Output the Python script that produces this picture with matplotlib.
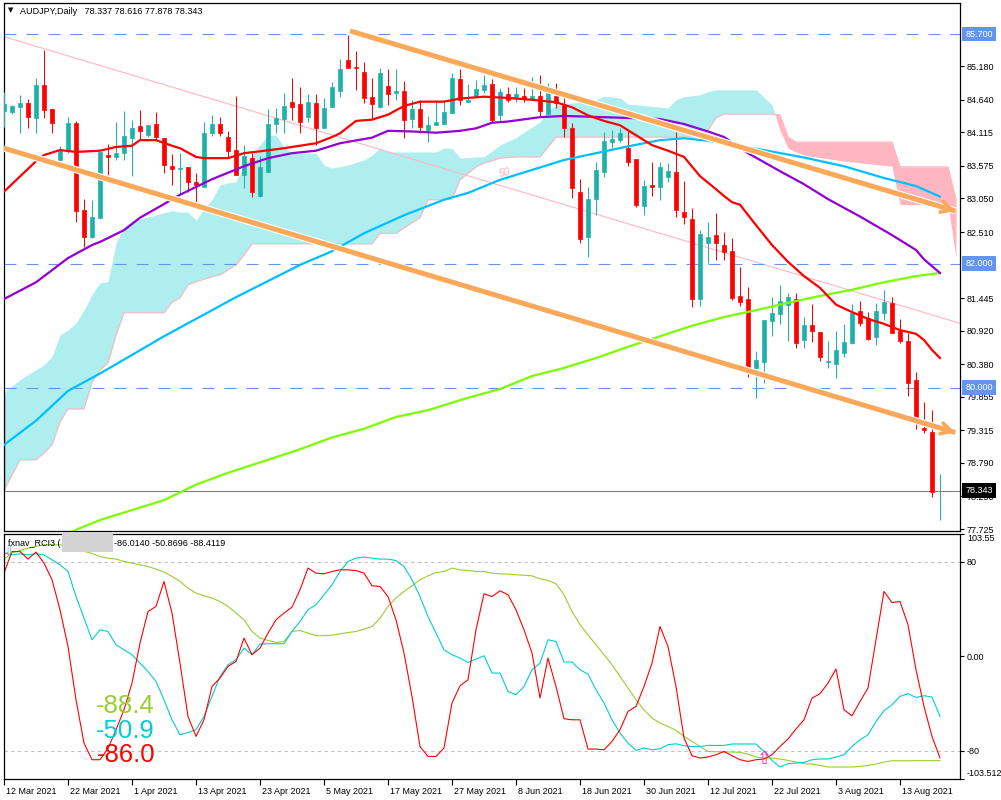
import numpy as np
import matplotlib.pyplot as plt
from matplotlib.patches import Rectangle
from matplotlib.transforms import blended_transform_factory, ScaledTranslation

plt.rcParams['font.family'] = ['Liberation Sans', 'DejaVu Sans']

# AUDJPY daily candles, bar 0 = 12 Mar 2021
opens = [84.464, 84.448, 84.529, 84.584, 84.342, 84.878, 84.492, 83.670, 83.815, 84.271,
         82.865, 82.434, 82.736, 83.751, 83.714, 83.788, 84.020, 84.218, 84.073, 84.250,
         84.020, 83.573, 83.530, 83.562, 83.311, 83.240, 84.110, 84.250, 84.036, 83.831,
         83.428, 83.697, 83.095, 83.482, 84.250, 84.331, 84.600, 84.572, 84.368, 84.584,
         84.190, 84.529, 84.787, 85.281, 85.168, 85.083, 84.690, 84.529, 84.862, 84.745,
         84.782, 84.326, 84.492, 84.153, 84.234, 84.250, 84.422, 84.975, 84.609, 84.690,
         84.798, 84.894, 84.395, 84.733, 84.690, 84.701, 84.648, 84.701, 84.411, 84.701,
         84.556, 84.181, 83.150, 82.434, 83.042, 83.482, 83.965, 83.992, 83.859, 83.686,
         82.934, 83.267, 83.240, 83.401, 83.482, 82.828, 82.719, 81.431, 82.338, 82.462,
         82.301, 82.204, 81.479, 81.426, 80.314, 80.421, 81.081, 81.189, 81.334, 81.426,
         80.770, 81.012, 80.904, 80.416, 80.383, 80.566, 80.727, 81.242, 81.120, 80.823,
         81.200, 81.361, 80.920, 80.759, 80.126, 79.347, 79.293, 78.337]
highs = [84.770, 84.556, 84.717, 84.653, 84.986, 85.442, 84.492, 83.896, 84.358, 84.303,
         83.037, 83.026, 83.815, 83.923, 84.287, 84.464, 84.315, 84.476, 84.234, 84.448,
         84.020, 83.762, 83.788, 83.562, 83.456, 84.287, 84.395, 84.368, 84.142, 84.701,
         83.912, 83.778, 83.739, 84.492, 84.503, 84.745, 84.996, 84.851, 84.729, 84.729,
         84.664, 84.932, 85.297, 85.690, 85.426, 85.244, 84.996, 85.147, 85.131, 85.131,
         84.943, 84.637, 84.637, 84.384, 84.637, 84.637, 85.067, 85.136, 84.890, 84.959,
         85.040, 84.970, 84.825, 84.851, 84.841, 84.825, 85.002, 85.040, 84.916, 84.906,
         84.664, 84.261, 83.364, 83.230, 83.643, 84.126, 84.153, 84.181, 84.153, 83.686,
         83.348, 83.643, 83.643, 83.617, 84.126, 83.337, 82.892, 82.542, 82.666, 82.811,
         82.515, 82.409, 81.951, 81.629, 80.598, 81.092, 81.468, 81.656, 81.522, 81.522,
         81.136, 81.350, 80.904, 80.759, 80.920, 81.028, 81.350, 81.403, 81.226, 81.371,
         81.576, 81.458, 81.103, 80.888, 80.259, 79.776, 79.642, 78.616]
lows = [84.202, 84.411, 84.100, 84.181, 84.100, 84.342, 84.100, 83.670, 83.778, 82.676,
        82.273, 82.409, 82.731, 83.428, 83.670, 83.670, 83.412, 83.992, 84.045, 83.992,
        83.465, 83.267, 83.106, 83.159, 82.998, 83.240, 84.057, 84.057, 83.697, 83.428,
        83.219, 83.079, 83.079, 83.482, 84.100, 84.100, 84.315, 84.100, 84.287, 83.912,
        84.190, 84.529, 84.690, 85.147, 84.798, 84.584, 84.342, 84.503, 84.556, 84.637,
        84.020, 84.181, 84.100, 83.955, 84.234, 84.250, 84.422, 84.556, 84.600, 84.664,
        84.745, 84.287, 84.287, 84.609, 84.609, 84.609, 84.637, 84.368, 84.395, 84.503,
        84.045, 83.053, 82.338, 82.112, 82.784, 83.401, 83.859, 83.965, 83.573, 82.918,
        82.784, 83.090, 83.026, 83.320, 82.747, 82.634, 81.307, 81.318, 82.006, 82.059,
        82.059, 81.415, 81.318, 80.179, 79.831, 80.082, 80.834, 81.028, 80.759, 80.636,
        80.636, 80.743, 80.437, 80.314, 80.153, 80.501, 80.706, 80.996, 80.770, 80.690,
        81.092, 80.888, 80.727, 79.868, 79.331, 79.267, 78.236, 77.878]
closes = [84.572, 84.540, 84.593, 84.368, 84.878, 84.476, 84.271, 83.815, 84.271, 82.853,
          82.434, 82.757, 83.804, 83.723, 83.778, 84.057, 84.181, 84.142, 84.234, 84.036,
          83.590, 83.530, 83.541, 83.320, 83.267, 84.100, 84.250, 84.110, 83.820, 83.428,
          83.735, 83.159, 83.562, 84.250, 84.342, 84.545, 84.529, 84.287, 84.600, 84.190,
          84.513, 84.851, 85.136, 85.147, 85.147, 84.664, 84.567, 85.067, 84.729, 84.782,
          84.315, 84.492, 84.207, 84.234, 84.278, 84.438, 84.996, 84.637, 84.637, 84.814,
          84.878, 84.315, 84.770, 84.637, 84.733, 84.664, 84.701, 84.464, 84.745, 84.584,
          84.181, 83.224, 82.397, 83.037, 83.509, 83.976, 84.008, 84.100, 83.643, 82.945,
          83.251, 83.240, 83.562, 83.493, 82.865, 82.757, 81.431, 82.478, 82.425, 82.338,
          82.193, 81.442, 81.387, 80.340, 80.448, 81.092, 81.210, 81.398, 81.458, 80.727,
          81.012, 80.920, 80.501, 80.432, 80.609, 80.743, 81.200, 81.049, 80.781, 81.242,
          81.387, 80.888, 80.759, 80.073, 79.534, 79.320, 78.326, 78.343]

# moving averages (bar index, price)
red_ma_idx = [0, 4, 5, 7, 9, 12, 14, 16, 17, 19, 21, 22, 24, 25, 28, 30, 32, 35, 37, 39,
              41, 42, 44, 46, 48, 50, 52, 55, 57, 60, 63, 66, 69, 71, 73, 75, 77, 79, 81, 83,
              85, 87, 89, 90, 91, 92, 94, 96, 98, 100, 102, 104, 106, 108, 110, 112, 113, 114,
              115, 116, 117]
red_ma = [83.16, 83.65, 83.75, 83.83, 83.80, 83.82, 83.88, 83.90, 83.99, 83.99,
          83.90, 83.86, 83.72, 83.70, 83.70, 83.78, 83.81, 83.86, 83.90, 83.94,
          84.04, 84.10, 84.30, 84.32, 84.40, 84.54, 84.61, 84.61, 84.66, 84.69,
          84.67, 84.64, 84.60, 84.52, 84.39, 84.30, 84.23, 84.07, 83.91, 83.82,
          83.72, 83.41, 83.20, 83.09, 82.99, 82.95, 82.62, 82.30, 82.03, 81.80,
          81.61, 81.34, 81.22, 81.11, 81.03, 80.93, 80.90, 80.87, 80.77, 80.61, 80.48]
purple_ma_idx = [0, 4, 8, 11, 12, 15, 17, 20, 22, 26, 30, 33, 36, 39, 42, 46, 48, 51, 54, 57,
                 59, 61, 63, 67, 70, 75, 82, 85, 88, 90, 93, 97, 100, 103, 107, 111, 114, 115,
                 116, 117]
purple_ma = [81.43, 81.70, 82.09, 82.30, 82.35, 82.54, 82.74, 82.96, 83.11, 83.36,
             83.57, 83.70, 83.78, 83.82, 83.94, 84.03, 84.14, 84.13, 84.11, 84.14,
             84.18, 84.27, 84.29, 84.36, 84.38, 84.36, 84.33, 84.25, 84.13, 84.04,
             83.78, 83.49, 83.28, 83.04, 82.76, 82.46, 82.22, 82.07, 81.96, 81.85]
blue_ma_idx = [0, 4, 8, 12, 16, 20, 24, 29, 33, 37, 41, 45, 50, 55, 58, 62, 66, 70, 74, 78,
               82, 85, 88, 91, 95, 100, 105, 110, 114, 117]
blue_ma = [79.08, 79.47, 79.95, 80.23, 80.53, 80.83, 81.11, 81.46, 81.72, 81.98,
           82.20, 82.49, 82.78, 83.03, 83.14, 83.35, 83.51, 83.67, 83.78, 83.89,
           83.99, 84.02, 83.98, 83.92, 83.83, 83.71, 83.57, 83.38, 83.25, 83.08]
green_ma_idx = [8, 12, 16, 20, 24, 28, 33, 37, 41, 45, 49, 53, 58, 62, 66, 70, 74, 78, 82, 86,
                90, 94, 98, 102, 106, 110, 114, 117]
green_ma = [77.66, 77.87, 78.03, 78.19, 78.44, 78.63, 78.84, 79.01, 79.20, 79.34,
            79.53, 79.64, 79.84, 79.98, 80.19, 80.32, 80.48, 80.66, 80.83, 81.00,
            81.14, 81.25, 81.37, 81.48, 81.58, 81.70, 81.80, 81.85]

# ichimoku cloud spans (shifted forward)
cloud_idx = [0, 2, 4, 5, 6, 7, 8, 9, 10, 11, 12, 13, 14, 15, 16, 18, 20, 21, 22, 23,
             24, 25, 26, 27, 28, 29, 30, 31, 32, 33, 34, 35, 36, 39, 40, 41, 43, 45, 46, 47,
             48, 49, 51, 52, 53, 54, 55, 56, 57, 59, 60, 62, 64, 66, 67, 68, 69, 70, 74, 75,
             77, 78, 83, 84, 85, 87, 88, 89, 90, 94, 96, 97, 98, 99, 100, 104, 108, 111, 112, 118,
             119]
span_a = [79.93, 80.13, 80.29, 80.37, 80.50, 80.85, 80.93, 81.04, 81.25, 81.50,
          81.69, 81.71, 82.33, 82.59, 82.69, 82.75, 82.82, 82.85, 82.83, 82.83,
          82.70, 82.88, 83.03, 83.27, 83.30, 83.32, 83.59, 83.75, 83.91, 84.07,
          84.07, 83.88, 83.78, 83.78, 83.59, 83.54, 83.59, 83.67, 83.75, 83.86,
          83.80, 83.80, 83.80, 83.80, 83.80, 83.80, 83.86, 83.86, 83.70, 83.72,
          83.72, 83.91, 84.03, 84.20, 84.28, 84.48, 84.54, 84.57, 84.64, 84.70,
          84.67, 84.57, 84.51, 84.64, 84.69, 84.72, 84.77, 84.80, 84.80, 84.80,
          84.56, 84.15, 83.86, 83.80, 83.75, 83.67, 83.61, 83.57, 82.95, 82.95,
          82.09]
span_b = [78.35, 78.84, 78.84, 78.95, 79.08, 79.45, 79.66, 79.66, 79.66, 80.09,
          80.29, 80.40, 80.85, 81.21, 81.21, 81.21, 81.21, 81.38, 81.45, 81.66,
          81.71, 81.75, 81.79, 81.82, 81.90, 81.98, 82.14, 82.32, 82.32, 82.32,
          82.32, 82.32, 82.32, 82.32, 82.32, 82.32, 82.32, 82.32, 82.32, 82.49,
          82.49, 82.49, 82.66, 82.74, 83.03, 83.03, 83.03, 83.04, 83.35, 83.56,
          83.62, 83.70, 83.72, 83.72, 83.72, 83.88, 84.04, 84.04, 84.04, 84.04,
          84.04, 84.04, 84.04, 84.04, 84.04, 84.04, 84.15, 84.35, 84.41, 84.41,
          84.41, 84.40, 84.04, 83.96, 83.96, 83.96, 83.96, 83.96, 83.56, 83.56,
          83.03]

# drawn objects: trend channel, regression line, levels
channel_upper = [(43.25, 85.75), (118.9, 82.85)]
channel_lower = [(0.0, 83.86), (118.9, 79.28)]
pink_line = [(0.0, 85.657), (119.5, 81.039)]
levels = [85.700, 82.000, 80.000]
last_price = 78.343
price_ticks = [85.180, 84.640, 84.115, 83.575, 83.050, 82.510, 81.445, 80.920, 80.380,
               79.855, 79.315, 78.790, 78.250, 77.725]

# RCI 3 lines
rci_short = [70.4, 88.7, 88.7, 82.3, 88.2, 78.9, 64.8, 39.4, 8.3, -36.8,
             -73.5, -87.6, -87.6, -78.0, -62.2, -45.3, -22.7, 11.2, 37.9, 42.2,
             63.3, 36.6, -5.8, -51.0, -67.9, -53.8, -25.6, -18.5, -8.6, -4.4,
             15.4, 1.3, 6.9, 19.6, 30.9, 36.6, 41.6, 56.3, 74.7, 70.4,
             69.8, 71.8, 73.2, 73.2, 72.6, 70.4, 59.7, 59.1, 50.6, 30.9,
             2.7, -34.0, -76.4, -84.8, -84.8, -77.7, -39.6, -25.0, -19.9, 22.4,
             52.9, 50.6, 55.4, 52.1, 39.4, 22.4, 2.7, -35.4, -1.5, -25.6,
             -52.9, -53.8, -53.8, -78.6, -78.6, -79.2, -72.1, -62.2, -46.7, -42.5,
             -25.6, -5.8, 25.2, 8.3, -25.6, -69.2, -84.2, -86.2, -85.3, -83.4,
             -80.6, -84.2, -87.6, -89.1, -87.6, -87.0, -83.4, -76.4, -70.1, -61.6,
             -53.8, -35.4, -31.7, -22.7, -10.8, -45.3, -50.4, -38.3, -26.9, 14.0,
             54.9, 45.5, 46.4, 26.7, -11.4, -42.5, -67.9, -86.0]
rci_mid = [87.4, 85.9, 86.8, 85.9, 86.8, 85.9, 81.7, 77.5, 71.8, 50.6,
           32.3, 14.0, 22.4, 21.0, 9.7, 5.5, 1.3, -5.8, -12.9, -21.3,
           -36.8, -53.8, -66.5, -64.5, -62.2, -51.0, -34.0, -17.1, -7.2, -3.0,
           6.9, 1.3, 10.3, 10.6, 10.6, 10.6, 21.0, 29.5, 39.4, 43.6,
           52.1, 60.5, 71.8, 80.3, 83.1, 84.0, 83.1, 82.3, 82.3, 81.1,
           76.0, 64.8, 50.6, 33.7, 19.6, 5.5, 1.3, -1.5, -5.2, -2.4,
           0.4, -14.2, -14.2, -29.8, -32.6, -25.6, -11.4, -5.8, 14.0, 12.5,
           -4.9, -4.9, -11.4, -15.1, -28.4, -39.6, -53.8, -65.0, -73.5, -79.7,
           -77.7, -79.2, -78.3, -74.9, -74.1, -75.8, -76.4, -76.4, -75.5, -75.5,
           -75.5, -74.3, -74.3, -74.3, -74.3, -80.6, -88.2, -93.8, -91.0, -90.4,
           -89.9, -87.6, -87.0, -87.0, -85.3, -83.4, -76.4, -70.7, -66.5, -55.2,
           -46.1, -41.1, -34.0, -31.7, -34.9, -33.4, -34.5, -50.9]
rci_long = [82.3, 87.4, 89.6, 91.6, 93.0, 94.4, 94.4, 94.4, 93.0, 91.0,
            89.0, 87.0, 84.5, 83.1, 82.3, 80.3, 78.9, 77.5, 76.0, 73.8,
            71.3, 67.6, 63.3, 57.7, 53.5, 51.2, 49.3, 46.4, 42.2, 36.6,
            30.9, 21.0, 15.4, 13.4, 11.7, 12.5, 21.0, 21.8, 19.6, 17.4,
            17.4, 17.9, 19.0, 20.1, 21.0, 23.0, 25.2, 32.3, 42.2, 49.3,
            54.9, 59.7, 64.8, 68.1, 70.9, 71.8, 74.7, 73.2, 72.6, 71.8,
            71.8, 70.4, 69.8, 69.6, 69.0, 68.7, 68.1, 65.6, 64.2, 61.4,
            52.1, 37.9, 26.7, 18.2, 9.7, 1.3, -7.2, -17.1, -26.9, -36.8,
            -45.3, -52.3, -56.6, -59.4, -62.8, -67.9, -72.1, -76.4, -80.6, -80.8,
            -81.1, -81.1, -81.4, -82.8, -85.3, -86.2, -86.2, -87.0, -88.2, -89.6,
            -91.0, -91.3, -92.4, -93.8, -93.8, -93.8, -93.8, -93.3, -92.4, -91.3,
            -89.6, -88.5, -88.5, -88.5, -88.4, -88.4, -88.4, -88.4]

date_labels = ['12 Mar 2021', '22 Mar 2021', '1 Apr 2021', '13 Apr 2021', '23 Apr 2021',
               '5 May 2021', '17 May 2021', '27 May 2021', '8 Jun 2021', '18 Jun 2021',
               '30 Jun 2021', '12 Jul 2021', '22 Jul 2021', '3 Aug 2021', '13 Aug 2021']

TEAL = '#20B2AA'
RED = '#FF0000'
ORANGE = '#FBA85A'
PINK = '#FFB6C1'
CYAN_FILL = '#AFEEEE'
LEVEL = '#6495ED'
FS = 6.5

W, H = 1001, 800
fig = plt.figure(figsize=(W / 100, H / 100), dpi=100)
ax = fig.add_axes([3.5 / W, 1 - 531 / H, (960 - 3.5) / W, (531 - 2.5) / H])
ax2 = fig.add_axes([3.5 / W, 1 - 778.5 / H, (960 - 3.5) / W, (778.5 - 534) / H])

xlim = (-0.0625, 119.5)

# ---- main price panel ----
ax.set_xlim(*xlim)
ax.set_ylim(77.693, 86.2075)

ci = np.array(cloud_idx)
sa = np.array(span_a)
sb = np.array(span_b)
ax.fill_between(ci, sa, sb, where=sa >= sb, interpolate=True, color=CYAN_FILL, lw=0, zorder=1)
ax.fill_between(ci, sa, sb, where=sa < sb, interpolate=True, color=PINK, lw=0, zorder=1)
ax.plot(ci, sb, color=PINK, lw=0.8, zorder=1.5)

ax.plot([p[0] for p in pink_line], [p[1] for p in pink_line], color=PINK, lw=0.8, zorder=1.6)
ax.text(62.6, 83.46, '50', color='#FFA8B6', fontsize=7.5, style='italic', ha='center',
        va='center', rotation=12, zorder=1.6)

for lvl in levels:
    ax.axhline(lvl, color=LEVEL, lw=0.8, dashes=(10.8, 9), zorder=2)
ax.axhline(last_price, color='#808080', lw=0.8, zorder=2)

x = np.arange(len(closes))
o = np.array(opens)
c = np.array(closes)
col = np.where(c >= o, TEAL, RED)
ax.vlines(x, lows, highs, colors=col, lw=0.75, zorder=3)
ax.bar(x, np.abs(c - o), bottom=np.minimum(o, c), width=0.56, color=col, edgecolor=col,
       lw=0.5, zorder=3)
ax.vlines(0.02, 78.35, 79.86, color='black', lw=1.6, zorder=3)

ax.plot(green_ma_idx, green_ma, color='#7CFC00', lw=1.6, zorder=4)
ax.plot(blue_ma_idx, blue_ma, color='#00BFFF', lw=1.6, zorder=4)
ax.plot(purple_ma_idx, purple_ma, color='#9400D3', lw=1.6, zorder=4)
ax.plot(red_ma_idx, red_ma, color=RED, lw=1.6, zorder=4)

for (x0, p0), (x1, p1) in (channel_upper, channel_lower):
    ax.plot([x0, x1], [p0, p1], color='white', lw=5.2, solid_capstyle='butt', zorder=5)
    ax.plot([x0, x1], [p0, p1], color=ORANGE, lw=3.6, solid_capstyle='butt', zorder=6)
    back = 4.0
    ax.annotate('', xy=(x1, p1), xytext=(x1 - back, p1 - (p1 - p0) / (x1 - x0) * back),
                arrowprops=dict(arrowstyle='->,head_length=0.75,head_width=0.4', color=ORANGE,
                                lw=2.6, shrinkA=0, shrinkB=0), zorder=6)

ax.yaxis.tick_right()
ax.set_yticks(price_ticks)
ax.set_yticklabels(['%.3f' % t for t in price_ticks])
ax.tick_params(axis='y', length=3, width=0.8, labelsize=FS, pad=2, colors='black')
ax.set_xticks([])
for s in ax.spines.values():
    s.set_linewidth(0.9)

tr = blended_transform_factory(ax.transAxes, ax.transData)
for lvl in levels:
    ax.text(1.0055, lvl, '%.3f' % lvl, transform=tr, color='white', fontsize=FS, ha='left',
            va='center', clip_on=False, zorder=10,
            bbox=dict(boxstyle='square,pad=0.32', fc=LEVEL, ec='none'))
ax.text(1.0055, last_price, '%.3f' % last_price, transform=tr, color='white', fontsize=FS,
        ha='left', va='center', clip_on=False, zorder=10,
        bbox=dict(boxstyle='square,pad=0.32', fc='black', ec='none'))

fig.text(8 / W, 1 - 10 / H, '\u25bc', fontsize=5, ha='left', va='center',
         family=['DejaVu Sans'])
fig.text(20 / W, 1 - 11 / H, 'AUDJPY,Daily   78.337 78.616 77.878 78.343', fontsize=FS,
         ha='left', va='center')

# ---- RCI panel ----
ax2.set_xlim(*xlim)
ax2.set_ylim(-103.512, 103.55)
ax2.axhline(80, color='#C0C0C0', lw=0.8, dashes=(3, 3))
ax2.axhline(-80, color='#C0C0C0', lw=0.8, dashes=(3, 3))
ax2.plot(x, rci_long, color='#9ACD32', lw=0.8)
ax2.plot(x, rci_mid, color='#00CED1', lw=0.8)
ax2.plot(x, rci_short, color=RED, lw=0.8)

sub_ticks = [103.55, 80, 0, -80, -103.512]
ax2.yaxis.tick_right()
ax2.set_yticks(sub_ticks)
ax2.set_yticklabels(['103.55', '80', '0.00', '-80', '-103.512'])
ax2.tick_params(axis='y', length=3, width=0.8, labelsize=FS, pad=2)
labs = ax2.get_yticklabels()
labs[0].set_va('top')
labs[-1].set_va('bottom')

ax2.set_xticks(np.arange(0, 8 * len(date_labels), 8))
ax2.set_xticklabels(date_labels, ha='left')
ax2.tick_params(axis='x', length=4, width=0.8, labelsize=FS, pad=2)
shift = ScaledTranslation(2 / 100, 0, fig.dpi_scale_trans)
for lb in ax2.get_xticklabels():
    lb.set_transform(lb.get_transform() + shift)
for s in ax2.spines.values():
    s.set_linewidth(0.9)

ax2.text(95, -87, '\u21e7', color='#E030C8', fontsize=13, ha='center', va='center',
         family=['DejaVu Sans'], zorder=5)
ax2.text(0.6, 88, '\u21e9', color='#7B9BD6', fontsize=9, ha='center', va='center',
         family=['DejaVu Sans'])

fig.text(8 / W, 1 - 543 / H, 'fxnav_RCI3 (', fontsize=FS, ha='left', va='center')
fig.patches.append(Rectangle((62 / W, 1 - 552 / H), 51 / W, 20 / H, transform=fig.transFigure,
                             facecolor='#D3D3D3', edgecolor='none', zorder=5))
fig.text(114 / W, 1 - 543 / H, '-86.0140 -50.8696 -88.4119', fontsize=FS, ha='left',
         va='center')

fig.text(155 / W, 1 - 706 / H, '%.1f' % rci_long[-1], color='#9ACD32', fontsize=18.5,
         ha='right', va='center')
fig.text(155 / W, 1 - 730.5 / H, '%.1f' % rci_mid[-1], color='#00CED1', fontsize=18.5,
         ha='right', va='center')
fig.text(155 / W, 1 - 755 / H, '%.1f' % rci_short[-1], color=RED, fontsize=18.5,
         ha='right', va='center')

fig.savefig('out.png', dpi=100)
